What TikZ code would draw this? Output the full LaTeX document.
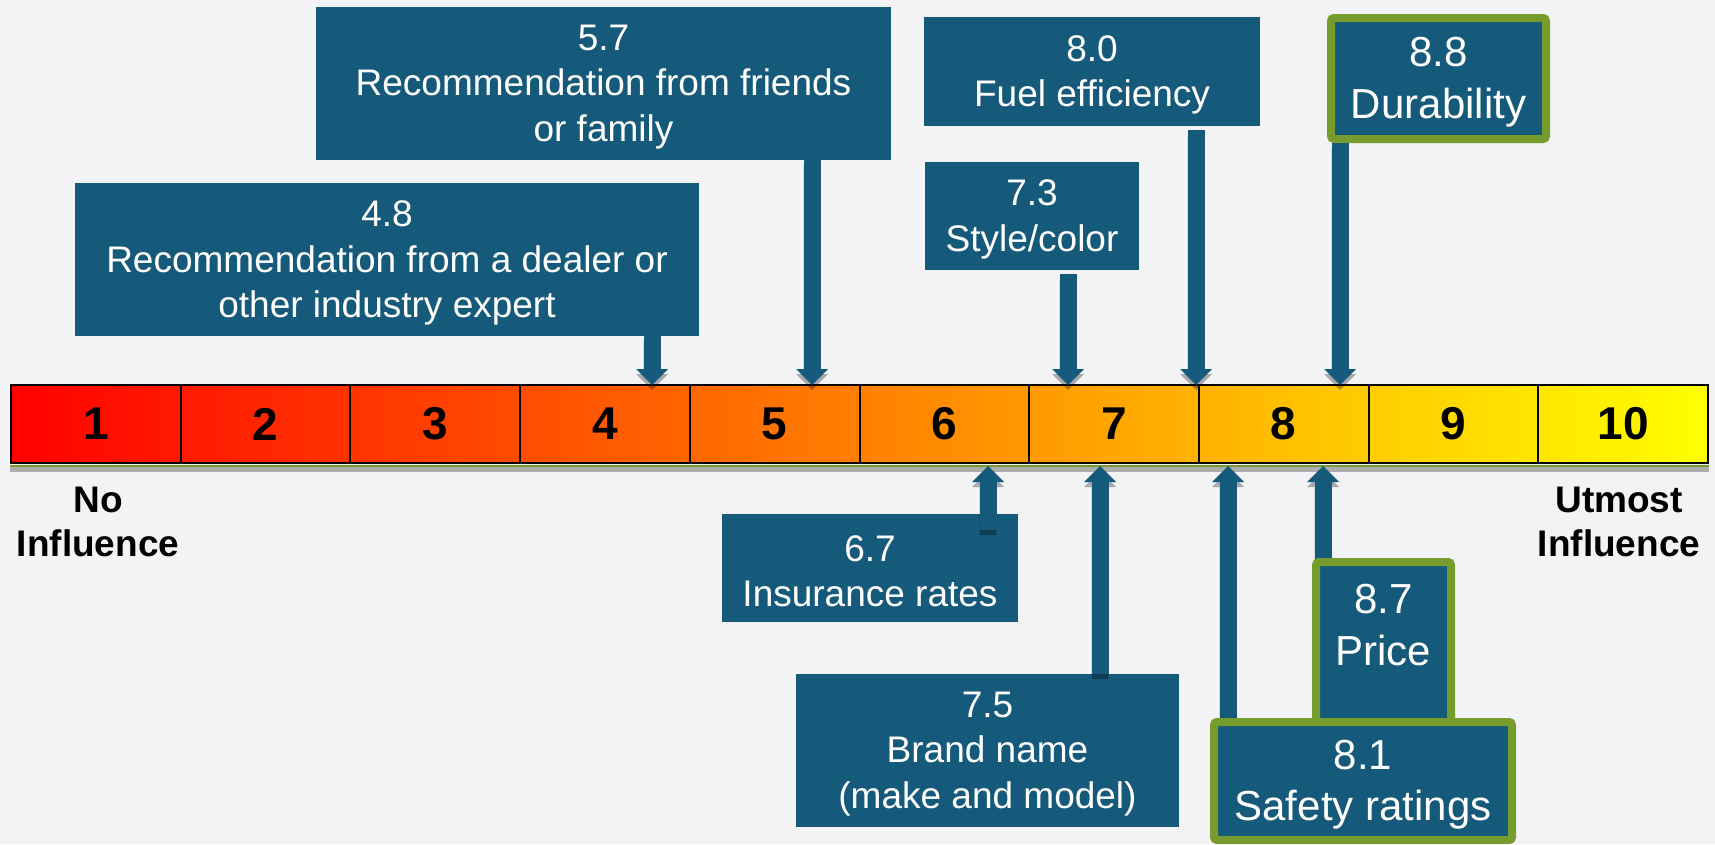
\documentclass[tikz,border=0pt]{standalone}
\usepackage{fontspec}
\setmainfont{Liberation Sans}
\usetikzlibrary{arrows.meta,calc}
\definecolor{bg}{RGB}{243,243,246}
\definecolor{boxblue}{RGB}{21,90,123}
\definecolor{grn}{RGB}{118,156,46}
\begin{document}
\begin{tikzpicture}[x=1pt,y=-1pt,
 box/.style={fill=boxblue, inner sep=0pt},
 bigbox/.style={fill=boxblue, inner sep=0pt, draw=grn, line width=8pt, rounded corners=3pt},
 btxt/.style={text=white, align=center, inner sep=0pt, yshift=-3.5pt, font=\fontsize{37}{45.3}\selectfont},
 bigtxt/.style={text=white, align=center, inner sep=0pt, font=\fontsize{42}{51.5}\selectfont},
 bigbtxt/.style={bigtxt, yshift=-3.5pt},
 cell/.style={draw=black, line width=2pt, minimum width=169.7pt, minimum height=78pt, inner sep=0pt, font=\bfseries\fontsize{46}{55}\selectfont},
 endlabel/.style={align=center, inner sep=0pt, font=\bfseries\fontsize{37}{44.4}\selectfont},
 arrmain/.style={draw=boxblue, line width=17pt, -{Triangle[width=32pt,length=16pt,line width'=0pt]}},
 arrshadow/.style={draw=black, line width=17pt, -{Triangle[width=32pt,length=16pt,line width'=0pt]}},
]
\useasboundingbox (0,0) rectangle (1715,844);
\fill[bg] (0,0) rectangle (1715,844);

% scale bar
\shade[left color=red, right color=yellow] (11,385) rectangle (1708,463);
\foreach \i in {1,...,10} {
  \node[cell] (c\i) at ({11+169.7*(\i-0.5)}, 424) {\i};
}
\fill[black!32] ([yshift=-3pt]c1.south west) rectangle ([yshift=-8pt]c10.south east);
\draw[grn, line width=1.6pt] ([yshift=-2pt]c1.south west) -- ([yshift=-2pt]c10.south east);

\node[endlabel] (lno) at (98,522) {No\\Influence};
\node[endlabel] (lut) at (1619,522) {Utmost\\Influence};

% boxes
\node[box, minimum width=575pt, minimum height=153pt, label={[btxt]center:{5.7\\Recommendation from friends\\or family}}] (n57) at (603.5,83.5) {};
\node[box, minimum width=624pt, minimum height=153pt, label={[btxt]center:{4.8\\Recommendation from a dealer or\\other industry expert}}] (n48) at (387,259.5) {};
\node[box, minimum width=336pt, minimum height=109pt, label={[btxt]center:{8.0\\Fuel efficiency}}] (n80) at (1092,71.5) {};
\node[box, minimum width=214pt, minimum height=108pt, label={[btxt]center:{7.3\\Style/color}}] (n73) at (1032,216) {};
\node[bigbox, minimum width=215pt, minimum height=121pt, label={[bigbtxt]center:{8.8\\Durability}}] (n88) at (1438.5,78.5) {};
\node[box, minimum width=296pt, minimum height=108pt, label={[btxt]center:{6.7\\Insurance rates}}] (n67) at (870,568) {};
\node[box, minimum width=383pt, minimum height=153pt, label={[btxt]center:{7.5\\Brand name\\(make and model)}}] (n75) at (987.5,750.5) {};

% arrow end points
\coordinate (t48) at (652,385);
\coordinate (t57) at (812,385);
\coordinate (t73) at (1068,385);
\coordinate (t80) at (1196,385);
\coordinate (t88) at (1340,385);
\coordinate (t67) at (988,466);
\coordinate (t75) at (1100,466);
\coordinate (t81) at (1228,466);
\coordinate (t87) at (1323,466);

\coordinate (s48) at (n48.south -| t48);
\coordinate (s57) at (n57.south -| t57);
\coordinate (s73) at ($(n73.south -| t73)+(0,4)$);
\coordinate (s80) at ($(n80.south -| t80)+(0,4)$);
\coordinate (s88) at (n88.south -| t88);
\coordinate (s67) at ($(n67.north -| t67)+(0,16)$);
\coordinate (s75) at (n75.north -| t75);
\coordinate (s81) at (1228,722);
\coordinate (s87) at (1323,562);

% shadows
\begin{scope}[transparency group, opacity=0.3]
\foreach \a in {48,57,73,80,88,67,75,81,87} {
  \draw[arrshadow] ([yshift=-5pt]s\a) -- ([yshift=-5pt]t\a);
}
\end{scope}

% arrows
\foreach \a in {48,57,73,80,88,67,75,81,87} {
  \draw[arrmain] (s\a) -- (t\a);
}

% green boxes at bottom
\node[bigbox, minimum width=135pt, minimum height=164pt] (n87) at (1383.5,644) {};
\node[bigtxt] (n87t) at (1383.5,625) {8.7\\Price};
\node[bigbox, minimum width=298pt, minimum height=118pt, label={[bigbtxt]center:{8.1\\Safety ratings}}] (n81) at (1363,781) {};
\end{tikzpicture}
\end{document}
